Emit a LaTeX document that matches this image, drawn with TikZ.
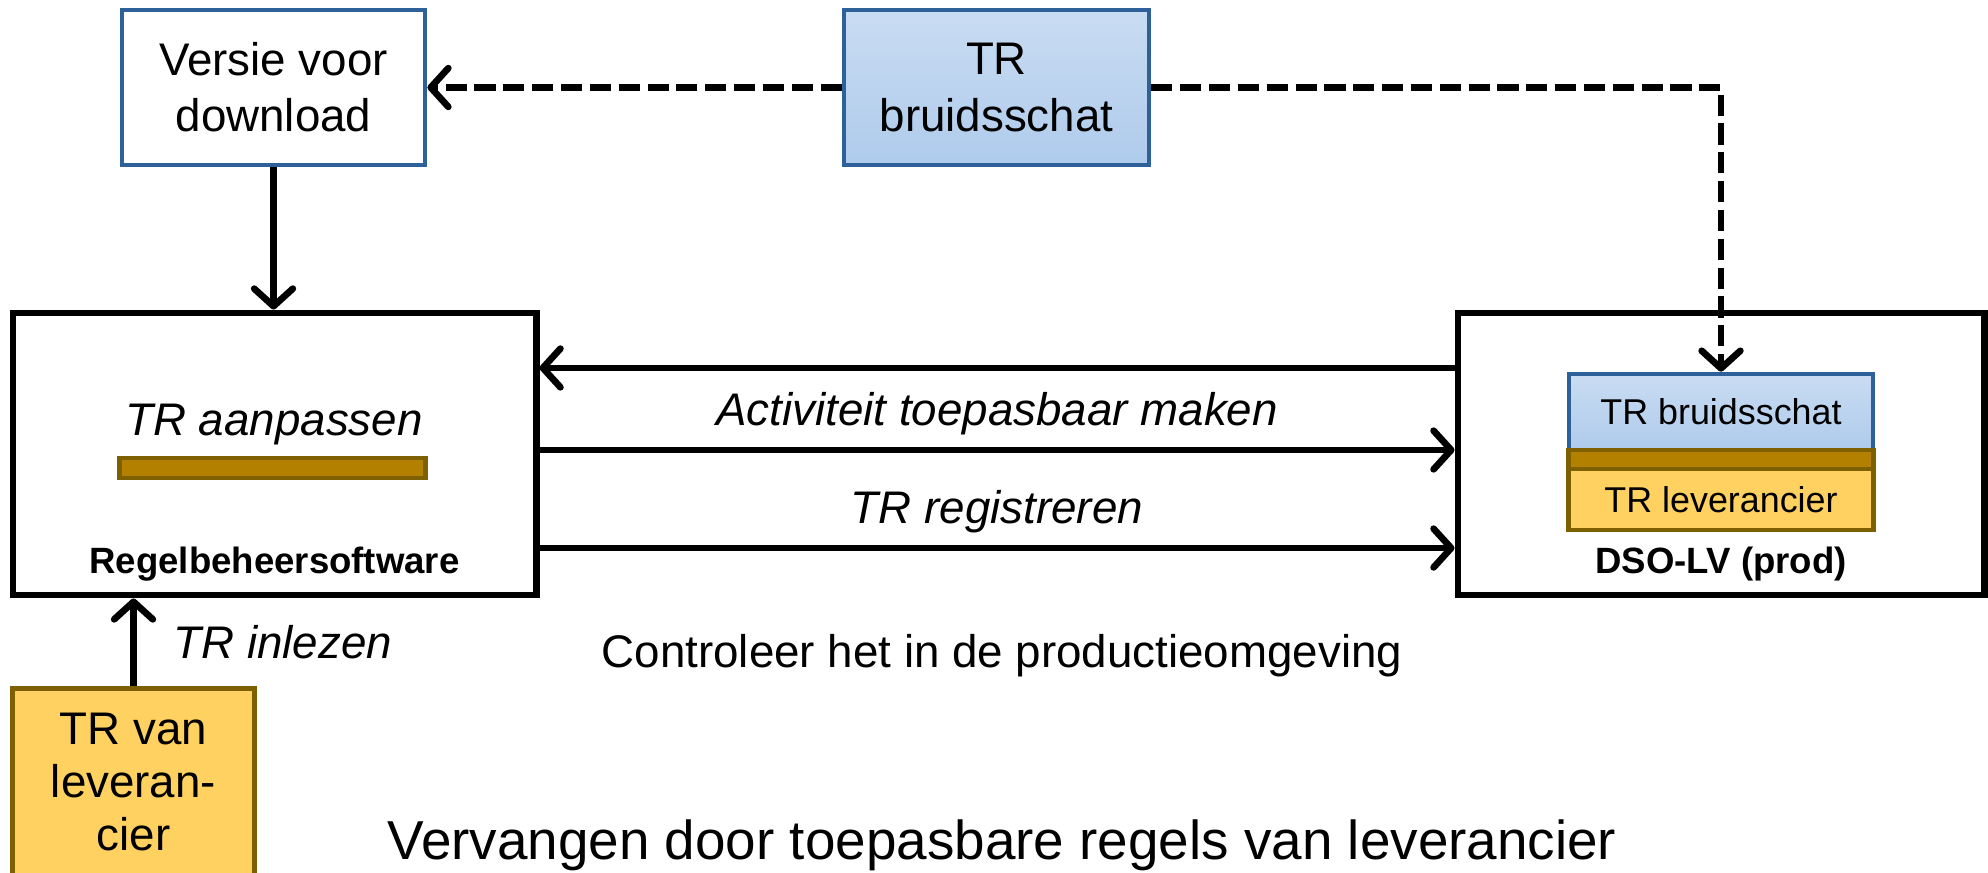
\documentclass[tikz,border=0pt]{standalone}
\usepackage{fontspec}
\setmainfont{Liberation Sans}
\usetikzlibrary{arrows.meta}
\definecolor{bluerand}{RGB}{46,96,153}
\definecolor{bluetop}{RGB}{201,220,242}
\definecolor{bluebot}{RGB}{175,203,236}
\definecolor{bruin}{RGB}{179,128,0}
\definecolor{bruinrand}{RGB}{127,96,0}
\definecolor{geel}{RGB}{255,209,96}

\begin{document}
\begin{tikzpicture}[x=0.01cm,y=-0.01cm,
	txt/.style={font=\fontsize{13}{16}\selectfont},
	ital/.style={font=\fontsize{13}{16}\selectfont\itshape},
	klein/.style={font=\fontsize{10.2}{12}\selectfont},
	kleinvet/.style={font=\fontsize{10.4}{12}\selectfont\bfseries},
	box/.style={draw,line width=1.9pt,inner sep=0pt,align=center,txt},
	wit/.style={box,draw=bluerand,line width=1.3pt,fill=white},
	blauw/.style={box,draw=bluerand,line width=1.3pt,top color=bluetop,bottom color=bluebot},
	geelbox/.style={box,draw=bruinrand,line width=1.4pt,fill=geel},
	balk/.style={box,draw=bruinrand,line width=1.4pt,fill=bruin},
	arr/.style={-{Straight Barb[length=5pt,width=11pt,round]},line width=1.9pt},
	stip/.style={arr,dash pattern=on 6pt off 2.2pt}]
\useasboundingbox (0,0) rectangle (1988,873);

\node[wit,minimum width=3.03cm,minimum height=1.55cm] (V) at (273.5,87.5) {Versie voor\\download};
\node[blauw,minimum width=3.05cm,minimum height=1.55cm] (B) at (996.5,87.5) {TR\\bruidsschat};

\node[box,minimum width=5.23cm,minimum height=2.82cm] (R) at (274.5,454) {};
\node[ital] (Ra) at (274,425) {TR aanpassen};
\node[balk,minimum width=3.05cm,minimum height=0.2cm] (Rb) at (272.5,468) {};
\node[kleinvet] (Rn) at (274.5,564) {Regelbeheersoftware};

\node[box,minimum width=5.26cm,minimum height=2.82cm] (D) at (1721,454) {};
\node[blauw,klein,minimum width=3.04cm,minimum height=0.76cm] (T) at (1721,412) {TR bruidsschat};
\node[balk,minimum width=3.04cm,minimum height=0.19cm] (Tb) at (1721,459.5) {};
\node[geelbox,klein,minimum width=3.04cm,minimum height=0.61cm] (TL) at (1721,499.5) {TR leverancier};
\node[kleinvet] (Dn) at (1721,564) {DSO-LV (prod)};

\node[geelbox,font=\fontsize{13}{15}\selectfont,minimum width=2.41cm,minimum height=1.86cm] (L) at (133.5,782) {TR van\\leveran-\\cier};

\node[txt] (C) at (1002,656) {Controleer het in de productieomgeving};
\node[font=\fontsize{15.6}{19}\selectfont] (Vv) at (1002,845) {Vervangen door toepasbare regels van leverancier};

\draw[stip] (B.west) -- (V.east);
\draw[stip] (B.east) -| (T.north);
\draw[arr] (V.south) -- (V.south |- R.north);
\draw[arr] ([yshift=0.86cm]D.west) -- ([yshift=0.86cm]R.east);
\draw[arr] ([yshift=0.04cm]R.east) -- node[above,ital] {Activiteit toepasbaar maken} ([yshift=0.04cm]D.west);
\draw[arr] ([yshift=-0.94cm]R.east) -- node[above,ital] {TR registreren} ([yshift=-0.94cm]D.west);
\draw[arr] (L.north) -- node[right,ital,xshift=0.25cm] {TR inlezen} (L.north |- R.south);
\end{tikzpicture}
\end{document}
